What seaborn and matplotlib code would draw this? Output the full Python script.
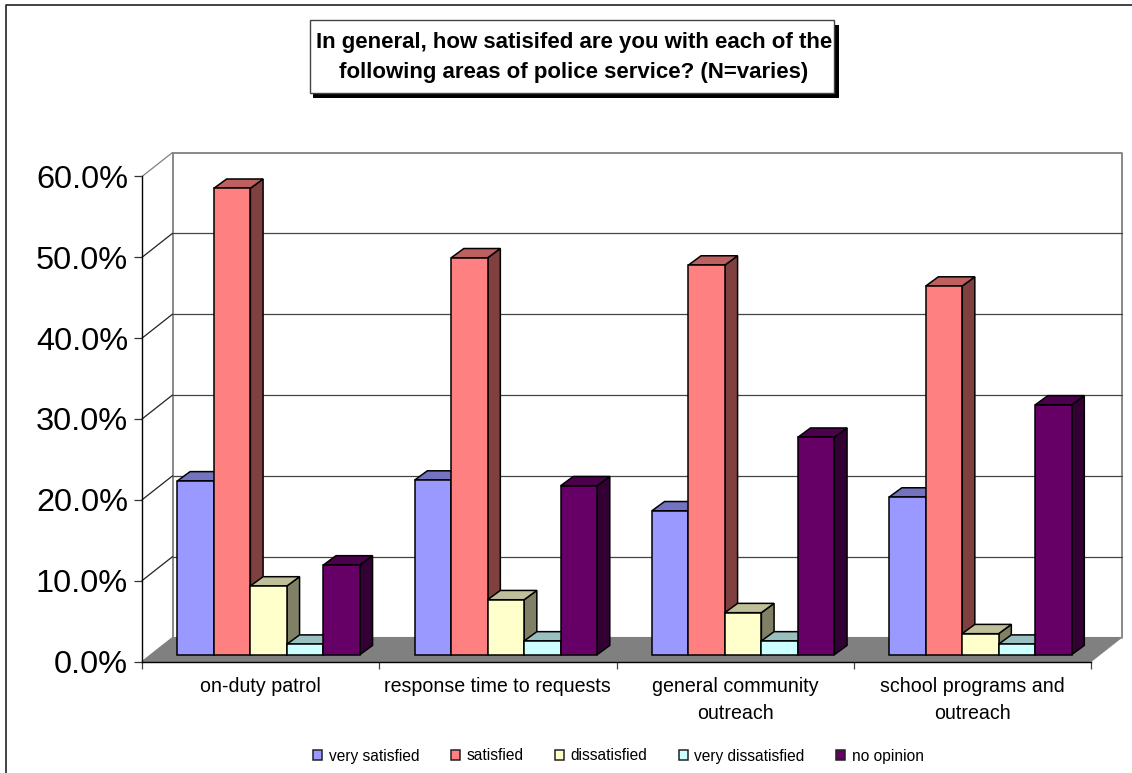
import matplotlib
matplotlib.use("Agg")
import matplotlib.pyplot as plt
from matplotlib.lines import Line2D
from matplotlib.patches import Polygon, Rectangle
from matplotlib.transforms import Affine2D
import matplotlib.colors as mc
import pandas as pd
import seaborn as sns

categories = ["on-duty patrol", "response time to requests",
              "general community\noutreach", "school programs and\noutreach"]
responses = ["very satisfied", "satisfied", "dissatisfied", "very dissatisfied", "no opinion"]
very_satisfied = [21.5, 21.6, 17.8, 19.5]
satisfied = [57.7, 49.1, 48.2, 45.6]
dissatisfied = [8.5, 6.8, 5.2, 2.6]
very_dissatisfied = [1.3, 1.7, 1.7, 1.3]
no_opinion = [11.1, 20.9, 26.9, 30.9]
colors = ["#9999FF", "#FF8080", "#FFFFCC", "#CCFFFF", "#660066"]
y_ticks = [0, 10, 20, 30, 40, 50, 60]

W, H = 1132, 773
sns.set_style("white")
plt.rcParams["font.family"] = ["Liberation Sans", "DejaVu Sans"]

df = pd.DataFrame({
    "category": categories * 5,
    "response": [r for r in responses for _ in categories],
    "value": very_satisfied + satisfied + dissatisfied + very_dissatisfied + no_opinion,
})

fig = plt.figure(figsize=(W / 100, H / 100), dpi=100, facecolor="white")
L, R, T, B = 142, 1091, 176.5, 661.5
ax = fig.add_axes([L / W, 1 - B / H, (R - L) / W, (B - T) / H])
sns.barplot(data=df, x="category", y="value", hue="response", hue_order=responses,
            palette=colors, saturation=1, width=0.769, edgecolor="black", linewidth=1.1,
            legend=False, ax=ax, zorder=5)
ax.set_xlim(-0.5, 3.5)
ax.set_ylim(0, 60)
ax.set_xlabel("")
ax.set_ylabel("")

px_x = (R - L) / 4      # pixels per category
px_y = (B - T) / 60     # pixels per percent
wall_dx, wall_dy = 30.5 / px_x, 24 / px_y
bar_dx, bar_dy = 12.7 / px_x, 9.3 / px_y
lift = Affine2D().translate(8.0, 6.8)    # bars stand a little inside the floor

# floor and back wall
GREY = "#808080"
ax.add_patch(Polygon([(-0.5, 0), (-0.5 + wall_dx, wall_dy), (3.5 + wall_dx, wall_dy), (3.5, 0)],
                     closed=True, fc=GREY, ec=GREY, lw=0.8, clip_on=False, zorder=1))
ax.plot([-0.5 + wall_dx, -0.5 + wall_dx, 3.5 + wall_dx, 3.5 + wall_dx],
        [wall_dy, 60 + wall_dy, 60 + wall_dy, wall_dy],
        color=GREY, lw=1.3, clip_on=False, zorder=2)
for v in y_ticks[1:]:
    c = GREY if v == 60 else "#222222"
    ax.plot([-0.5, -0.5 + wall_dx], [v, v + wall_dy], color=c, lw=0.9, clip_on=False, zorder=2)
    if v < 60:
        ax.plot([-0.5 + wall_dx, 3.5 + wall_dx], [v + wall_dy] * 2, color="#444444", lw=0.9,
                clip_on=False, zorder=2)

# 3D faces for each bar, drawn left to right so that each front hides its neighbour's side
bars = sorted([p for p in ax.patches if isinstance(p, Rectangle) and p.get_width() > 0],
              key=lambda p: p.get_x())
for i, p in enumerate(bars):
    x0, x1, h = p.get_x(), p.get_x() + p.get_width(), p.get_height()
    base = mc.to_rgb(p.get_facecolor())
    tr = ax.transData + lift
    z = 5 + i
    side = tuple(c * 0.5 for c in base)
    top = tuple(c * 0.75 for c in base)
    ax.add_patch(Polygon([(x1, 0), (x1 + bar_dx, bar_dy), (x1 + bar_dx, h + bar_dy), (x1, h)],
                         closed=True, fc=side, ec="black", lw=1.1, transform=tr,
                         clip_on=False, zorder=z))
    ax.add_patch(Polygon([(x0, h), (x0 + bar_dx, h + bar_dy), (x1 + bar_dx, h + bar_dy), (x1, h)],
                         closed=True, fc=top, ec="black", lw=1.1, transform=tr,
                         clip_on=False, zorder=z))
    p.set_transform(tr)
    p.set_clip_on(False)
    p.set_zorder(z + 0.5)

# axes
for s in ["top", "right"]:
    ax.spines[s].set_visible(False)
for s in ["left", "bottom"]:
    ax.spines[s].set_color("black")
    ax.spines[s].set_linewidth(1.0)
    ax.spines[s].set_zorder(30)
ax.patch.set_alpha(0)
ax.set_yticks(y_ticks)
ax.set_yticklabels([f"{v:.1f}%" for v in y_ticks], fontsize=23.4)
ax.tick_params(axis="y", left=True, length=5.5, width=0.9, color="#333333", pad=4.6, labelcolor="black")
ax.set_xticks(range(4))
ax.set_xticklabels(categories, fontsize=14.1, linespacing=1.48)
ax.set_xticks([-0.5, 0.5, 1.5, 2.5, 3.5], minor=True)
ax.tick_params(axis="x", which="major", bottom=False, length=0, pad=11.5, labelcolor="black")
ax.tick_params(axis="x", which="minor", bottom=True, length=5, width=0.9, color="#444444")

# legend
handles = [Rectangle((0, 0), 1, 1, fc=c, ec="#222222", lw=1.1) for c in colors]
fig.legend(handles, responses, loc="center", bbox_to_anchor=(618.5 / W, 1 - 756 / H),
           ncol=5, frameon=False, fontsize=11.2, handlelength=0.58, handleheight=0.58,
           handletextpad=0.4, columnspacing=2.05, borderpad=0, labelcolor="black")

# outer border: only the top and left edges fall inside the picture
fig.add_artist(Line2D([6 / W, 6 / W, 1], [0, 1 - 5 / H, 1 - 5 / H], transform=fig.transFigure,
                      color="#222222", lw=1.2, zorder=0))

# title box with shadow
bx0, bx1, by0, by1 = 309.5, 834, 20.5, 92.5
fig.add_artist(Rectangle(((bx0 + 3) / W, 1 - (by1 + 5) / H), (bx1 - bx0 + 1.5) / W, (by1 - by0) / H,
                         transform=fig.transFigure, fc="black", ec="black", lw=0, zorder=40))
fig.add_artist(Rectangle((bx0 / W, 1 - by1 / H), (bx1 - bx0) / W, (by1 - by0) / H,
                         transform=fig.transFigure, fc="white", ec="#444444", lw=1.0, zorder=41))
fig.text(574 / W, 1 - 57.5 / H, "In general, how satisifed are you with each of the\n"
         "following areas of police service? (N=varies)", ha="center", va="center",
         fontsize=16, fontweight="bold", color="black", linespacing=1.6, zorder=42)

fig.savefig("out.png", dpi=100)
